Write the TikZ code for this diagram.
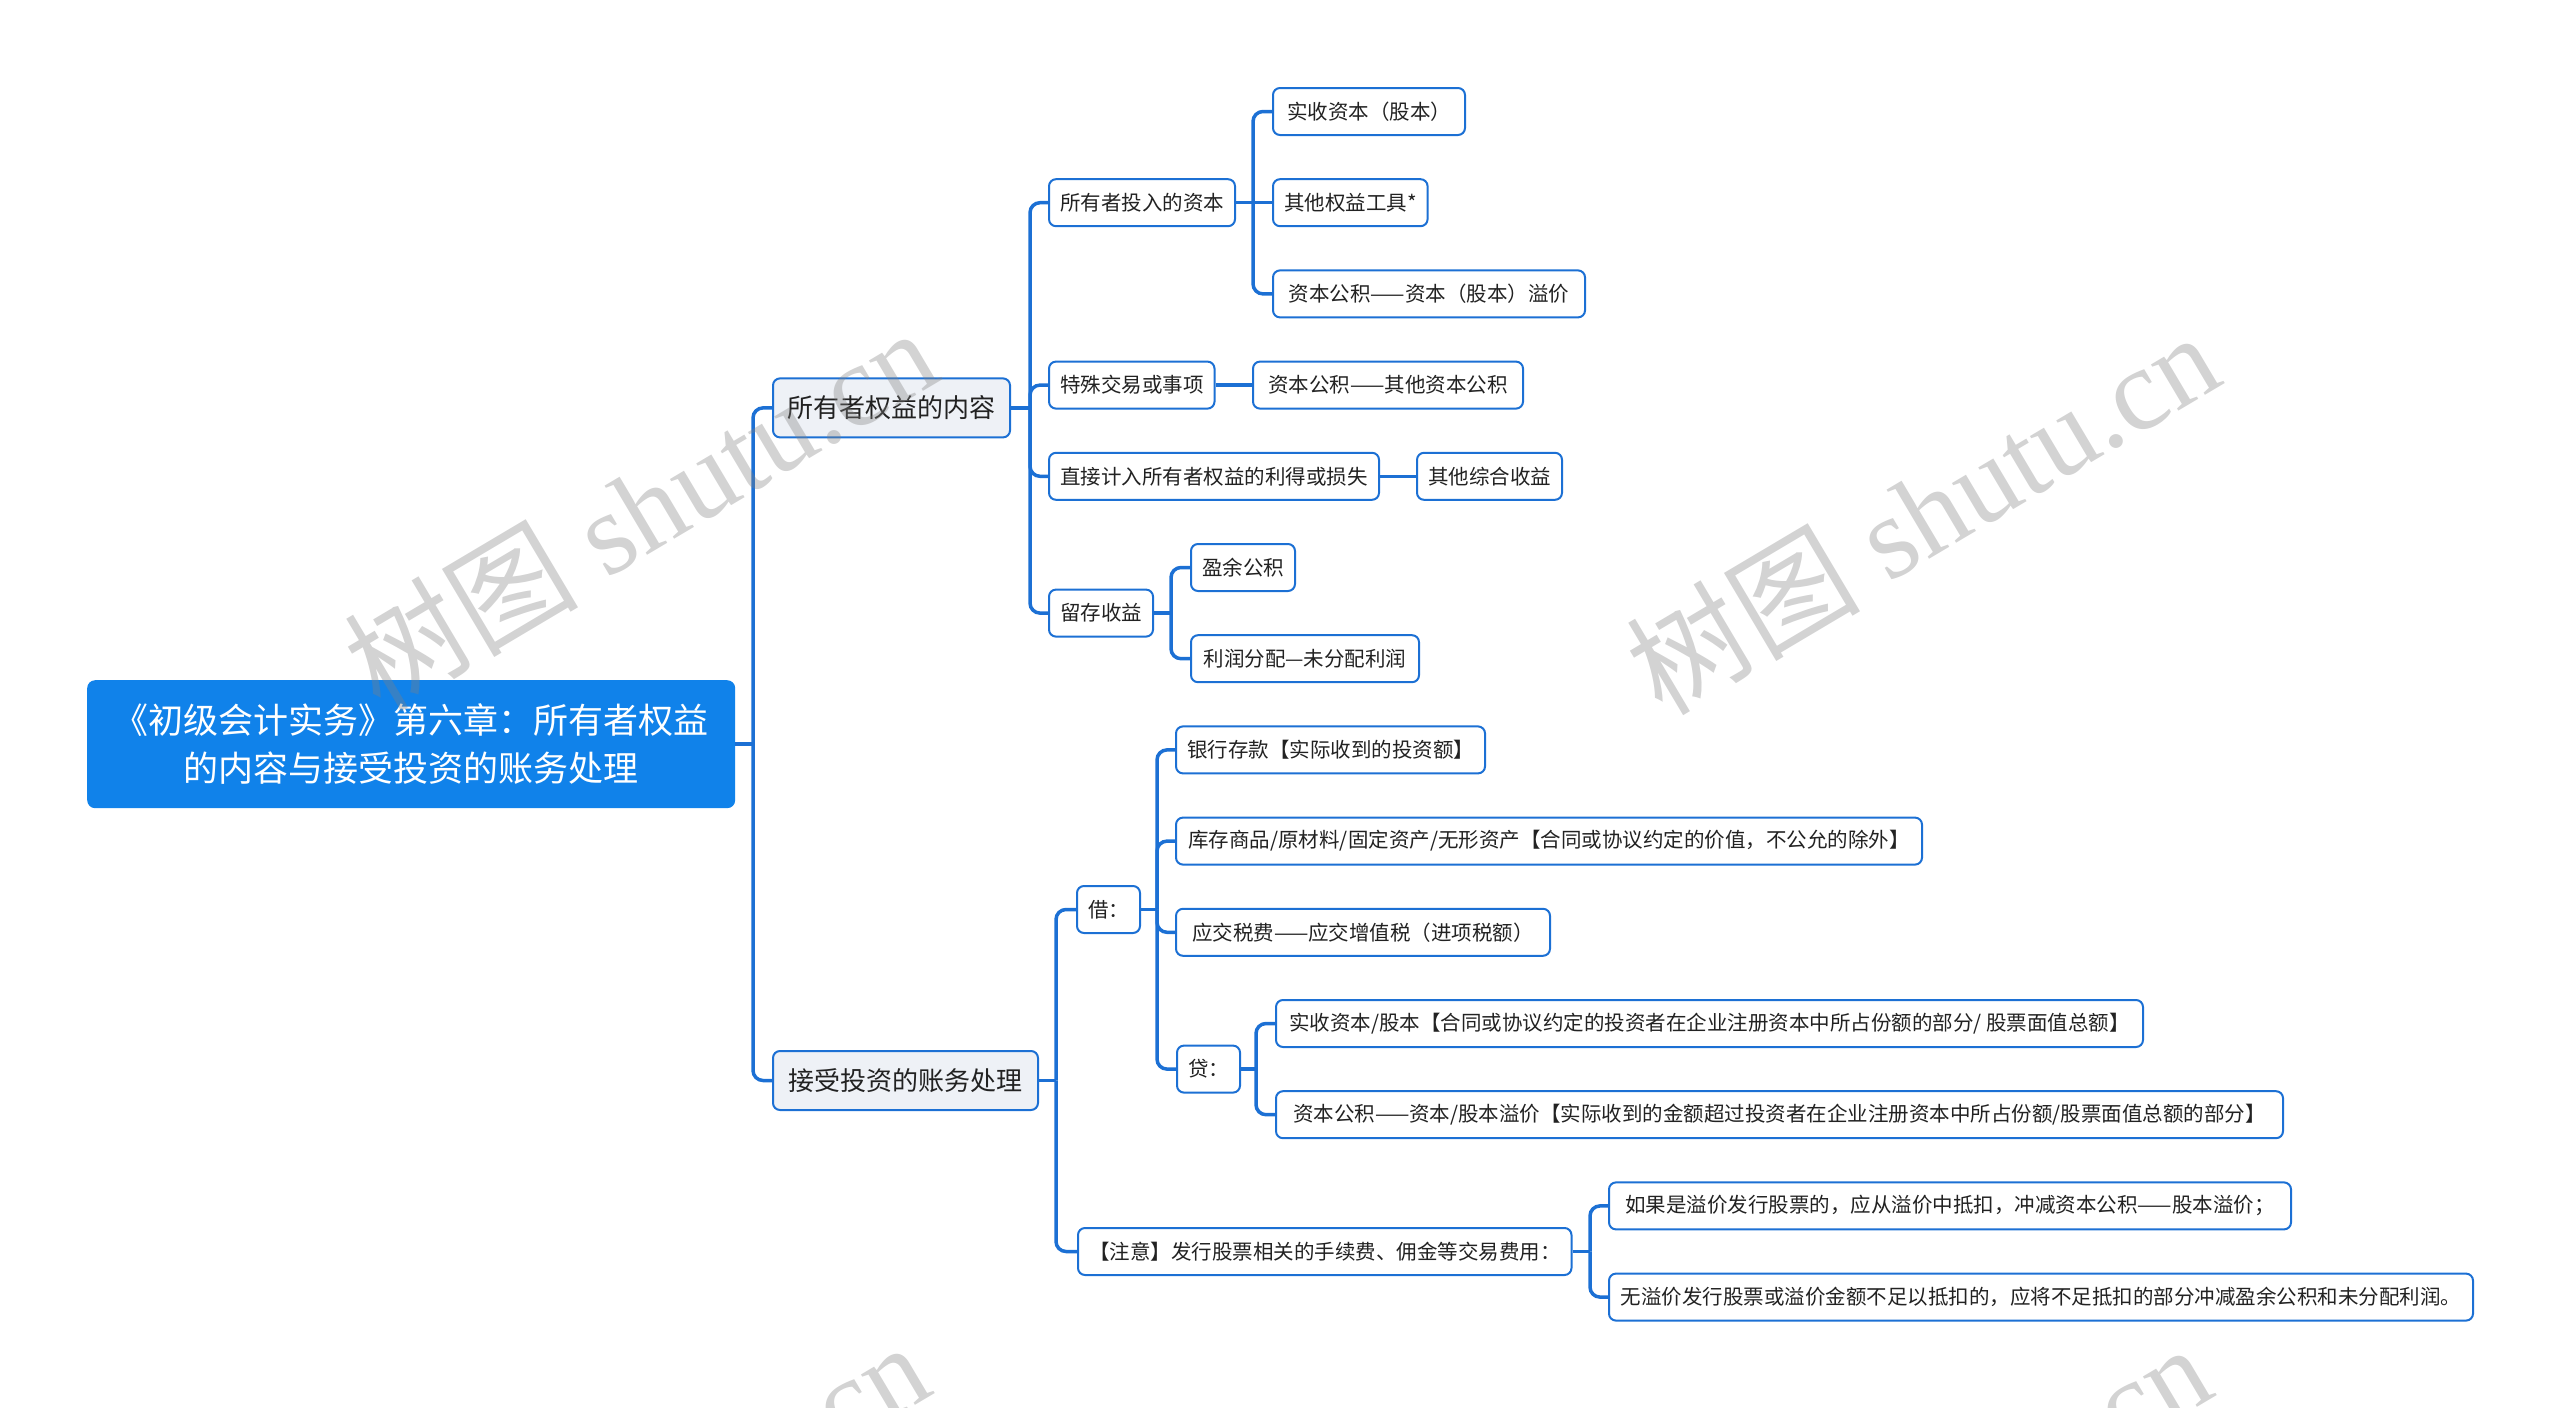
\documentclass[tikz,border=0pt]{standalone}
\usepackage{fontspec}
\setmainfont{Noto Sans CJK SC}
\newfontfamily\wmlatin{Liberation Serif}
\newfontfamily\wmcjk{Noto Sans CJK SC}
\definecolor{lineblue}{RGB}{28,112,212}
\definecolor{rootblue}{RGB}{16,130,234}
\definecolor{lvfill}{RGB}{238,241,246}
\definecolor{textdark}{RGB}{34,34,34}
\begin{document}
\begin{tikzpicture}[x=1pt,y=-1pt,
  conn/.style={draw=lineblue, line width=3.5pt, rounded corners=10pt},
  leaf/.style={draw=lineblue, line width=2pt, fill=white, rounded corners=7pt, anchor=west,
    minimum height=47pt, inner xsep=11pt, inner ysep=0pt, font=\fontsize{20.5}{24}\selectfont, text=textdark},
  lvone/.style={leaf, fill=lvfill, minimum height=59pt, font=\fontsize{26}{30}\selectfont},
  rootbox/.style={fill=rootblue, rounded corners=8pt, anchor=west, minimum width=648pt,
    minimum height=128pt, text=white, align=center, font=\fontsize{35}{48}\selectfont},
  wm/.style={text=black!50, text opacity=0.35, font=\wmlatin\fontsize{117}{122}\selectfont, inner sep=0pt}
]
\useasboundingbox (0,0) rectangle (2560,1408);

% nodes
\node[rootbox] (root) at (87,744.2) {《初级会计实务》第六章：所有者权益\\的内容与接受投资的账务处理};
\node[lvone, minimum width=237pt] (E) at (772,407.9) {所有者权益的内容};
\node[lvone, minimum width=265pt] (F) at (772,1080.5) {接受投资的账务处理};

\node[leaf, minimum width=185pt] (A1) at (1048,202.7) {所有者投入的资本};
\node[leaf, minimum width=192pt] (A1a) at (1272,111.5) {实收资本（股本）};
\node[leaf, minimum width=153pt] (A1b) at (1272,202.7) {其他权益工具*};
\node[leaf, minimum width=312pt] (A1c) at (1272,293.9) {资本公积——资本（股本）溢价};
\node[leaf, minimum width=165pt] (A2) at (1048,385.1) {特殊交易或事项};
\node[leaf, minimum width=270pt] (A2a) at (1252,385.1) {资本公积——其他资本公积};
\node[leaf, minimum width=330pt] (A3) at (1048,476.3) {直接计入所有者权益的利得或损失};
\node[leaf, minimum width=143pt] (A3a) at (1416,476.3) {其他综合收益};
\node[leaf, minimum width=104pt] (A4) at (1048,613.1) {留存收益};
\node[leaf, minimum width=103pt] (A4a) at (1190,567.5) {盈余公积};
\node[leaf, minimum width=228pt] (A4b) at (1190,658.7) {利润分配—未分配利润};

\node[leaf, minimum width=60pt] (B1) at (1076,909.5) {借：};
\node[leaf, minimum width=309pt] (B1a) at (1175,749.9) {银行存款【实际收到的投资额】};
\node[leaf, minimum width=746pt] (B1b) at (1175,841.1) {库存商品/原材料/固定资产/无形资产【合同或协议约定的价值，不公允的除外】};
\node[leaf, minimum width=374pt] (B1c) at (1175,932.3) {应交税费——应交增值税（进项税额）};
\node[leaf, minimum width=61pt] (B1d) at (1176,1069.1) {贷：};
\node[leaf, minimum width=867pt] (B1d1) at (1275,1023.5) {实收资本/股本【合同或协议约定的投资者在企业注册资本中所占份额的部分/ 股票面值总额】};
\node[leaf, minimum width=1007pt] (B1d2) at (1275,1114.7) {资本公积——资本/股本溢价【实际收到的金额超过投资者在企业注册资本中所占份额/股票面值总额的部分】};
\node[leaf, minimum width=492pt] (B2) at (1077,1251.5) {【注意】发行股票相关的手续费、佣金等交易费用：};
\node[leaf, minimum width=682pt] (B2a) at (1608,1205.9) {如果是溢价发行股票的，应从溢价中抵扣，冲减资本公积——股本溢价；};
\node[leaf, minimum width=864pt] (B2b) at (1608,1297.1) {无溢价发行股票或溢价金额不足以抵扣的，应将不足抵扣的部分冲减盈余公积和未分配利润。};

% junctions
\coordinate (jR) at (753,744.2);
\coordinate (jE) at (1030,407.9);
\coordinate (jA1) at (1253,202.7);
\coordinate (jA4) at (1171,613.1);
\coordinate (jF) at (1056,1080.5);
\coordinate (jB1) at (1157,909.5);
\coordinate (jB1d) at (1256,1069.1);
\coordinate (jB2) at (1590,1251.5);

% connectors
\draw[conn] (root.east) -- (jR);
\draw[conn] (jR) |- (E.west);
\draw[conn] (jR) |- (F.west);

\draw[conn] (E.east) -- (jE);
\draw[conn] (jE) |- (A1.west);
\draw[conn] (jE) |- (A2.west);
\draw[conn] (jE) |- (A3.west);
\draw[conn] (jE) |- (A4.west);

\draw[conn] (A1.east) -- (jA1);
\draw[conn] (jA1) |- (A1a.west);
\draw[conn] (jA1) -- (A1b.west);
\draw[conn] (jA1) |- (A1c.west);
\draw[conn] (A2.east) -- (A2a.west);
\draw[conn] (A3.east) -- (A3a.west);
\draw[conn] (A4.east) -- (jA4);
\draw[conn] (jA4) |- (A4a.west);
\draw[conn] (jA4) |- (A4b.west);

\draw[conn] (F.east) -- (jF);
\draw[conn] (jF) |- (B1.west);
\draw[conn] (jF) |- (B2.west);
\draw[conn] (B1.east) -- (jB1);
\draw[conn] (jB1) |- (B1a.west);
\draw[conn] (jB1) |- (B1b.west);
\draw[conn] (jB1) |- (B1c.west);
\draw[conn] (jB1) |- (B1d.west);
\draw[conn] (B1d.east) -- (jB1d);
\draw[conn] (jB1d) |- (B1d1.west);
\draw[conn] (jB1d) |- (B1d2.west);
\draw[conn] (B2.east) -- (jB2);
\draw[conn] (jB2) |- (B2a.west);
\draw[conn] (jB2) |- (B2b.west);

% watermarks
\begin{scope}
\clip (0,0) rectangle (2560,1408);
\node[wm, rotate=30.7] (wm1) at (640,508) {{\wmcjk 树图} shutu.cn};
\node[wm, rotate=30.7] (wm2) at (1922,512) {{\wmcjk 树图} shutu.cn};
\node[wm, rotate=30.7] (wm3) at (632,1522) {{\wmcjk 树图} shutu.cn};
\node[wm, rotate=30.7] (wm4) at (1914,1524) {{\wmcjk 树图} shutu.cn};
\end{scope}
\end{tikzpicture}
\end{document}
